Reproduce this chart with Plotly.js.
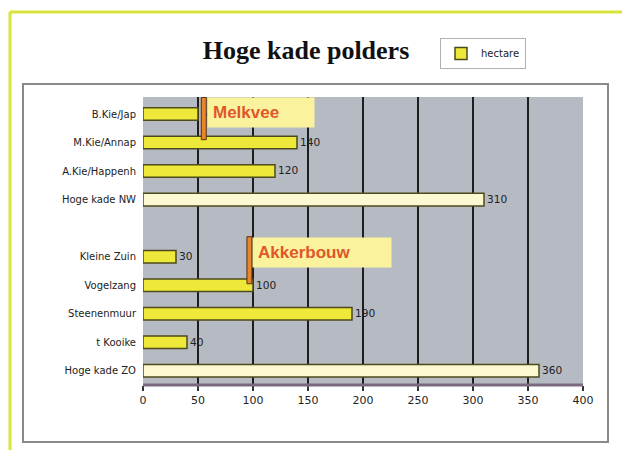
<!DOCTYPE html>
<html>
<head>
<meta charset="utf-8">
<script src="https://cdn.plot.ly/plotly-3.0.1.min.js"></script>
<style>
html,body{margin:0;padding:0;background:#ffffff;}
#chart{width:622px;height:450px;}
</style>
</head>
<body>
<div id="chart"></div>
<script>
// Data
const categories = ["B.Kie/Jap", "M.Kie/Annap", "A.Kie/Happenh", "Hoge kade NW", " ", "Kleine Zuin", "Vogelzang", "Steenenmuur", "t Kooike", "Hoge kade ZO"];
const hectare = [50, 140, 120, 310, null, 30, 100, 190, 40, 360];
const valueLabels = ["50", "140", "120", "310", "", "30", "100", "190", "40", "360"];
const barColors = ["#ede83a", "#ede83a", "#ede83a", "#fbf8d2", "#ede83a", "#ede83a", "#ede83a", "#ede83a", "#ede83a", "#fbf8d2"];
const xTicks = [0, 50, 100, 150, 200, 250, 300, 350, 400];
const seriesName = "hectare";
const chartTitle = "Hoge kade polders";

// plot area pixel geometry
const L = 143, R = 583, T = 97, B = 385, W = 622, H = 450;
const px = v => (v - L) / (R - L);
const py = v => (B - v) / (B - T);

const trace = {
  type: "bar",
  orientation: "h",
  y: categories,
  x: hectare,
  name: seriesName,
  width: 0.44,
  marker: {color: barColors, line: {color: "#4d4a1c", width: 1.5}},
  text: valueLabels,
  textposition: "outside",
  cliponaxis: false,
  textfont: {family: "DejaVu Sans, Arial", size: 11, color: "#222"},
  hoverinfo: "x+y"
};

const shapes = [
  // outer yellow-green frame
  {type: "line", xref: "paper", yref: "paper", x0: px(10), x1: px(W + 5), y0: py(12), y1: py(12), line: {color: "#d8e43c", width: 3}},
  {type: "line", xref: "paper", yref: "paper", x0: px(10), x1: px(10), y0: py(12), y1: py(H + 5), line: {color: "#d8e43c", width: 3}},
  // inner chart box
  {type: "rect", xref: "paper", yref: "paper", x0: px(23), x1: px(608), y0: py(84), y1: py(442), line: {color: "#8a8a8a", width: 2}, fillcolor: "rgba(0,0,0,0)", layer: "below"},
  // floor line
  {type: "line", xref: "paper", yref: "paper", x0: 0, x1: 1, y0: 0, y1: 0, line: {color: "#7a6a80", width: 3}},
  // Melkvee marker
  {type: "rect", xref: "x", yref: "y", x0: 53, x1: 57.5, y0: -0.58, y1: 0.9, fillcolor: "#e8862c", line: {color: "#5a3010", width: 1}},
  // Akkerbouw marker
  {type: "rect", xref: "x", yref: "y", x0: 94.5, x1: 99, y0: 4.3, y1: 5.95, fillcolor: "#e8862c", line: {color: "#5a3010", width: 1}}
];

const annotations = [
  {x: 58, y: -0.05, xref: "x", yref: "y", xanchor: "left", yanchor: "middle", text: "<b>Melkvee</b>", showarrow: false,
   font: {family: "Liberation Sans, Arial", size: 17, color: "#e0572a"}, bgcolor: "#fbf29e", borderpad: 5, width: 96, align: "left"},
  {x: 99.5, y: 4.85, xref: "x", yref: "y", xanchor: "left", yanchor: "middle", text: "<b>Akkerbouw</b>", showarrow: false,
   font: {family: "Liberation Sans, Arial", size: 17, color: "#e0572a"}, bgcolor: "#fbf29e", borderpad: 5, width: 128, align: "left"}
];

const layout = {
  width: W, height: H,
  margin: {l: L, r: W - R, t: T, b: H - B, pad: 0},
  paper_bgcolor: "#ffffff",
  plot_bgcolor: "#b6bac3",
  title: {text: "<b>" + chartTitle + "</b>", font: {family: "Liberation Serif, Times New Roman", size: 26, color: "#111"},
          x: px(306), xref: "paper", xanchor: "center", y: 1 - 50 / H, yref: "container", yanchor: "middle"},
  showlegend: true,
  legend: {x: px(440), y: py(38), xanchor: "left", yanchor: "top", bgcolor: "#ffffff", bordercolor: "#b0b0b0", borderwidth: 1,
           font: {family: "DejaVu Sans, Arial", size: 10, color: "#222"}, itemwidth: 30},
  xaxis: {range: [0, 400], tickvals: xTicks, ticktext: xTicks.map(String), showgrid: true, gridcolor: "#1e1e1e", gridwidth: 1.8,
          zeroline: false, ticks: "outside", ticklen: 5, tickcolor: "#333", tickwidth: 1.5, showline: false,
          tickfont: {family: "DejaVu Sans, Arial", size: 11, color: "#222"}, fixedrange: true},
  yaxis: {type: "category", categoryorder: "array", categoryarray: categories, autorange: "reversed", showgrid: false,
          zeroline: false, ticks: "", showline: false, ticklabelstandoff: 6,
          tickfont: {family: "DejaVu Sans, Arial", size: 10, color: "#222"}, fixedrange: true},
  bargap: 0.55,
  shapes: shapes,
  annotations: annotations
};

Plotly.newPlot("chart", [trace], layout, {displayModeBar: false, staticPlot: true});
</script>
</body>
</html>
